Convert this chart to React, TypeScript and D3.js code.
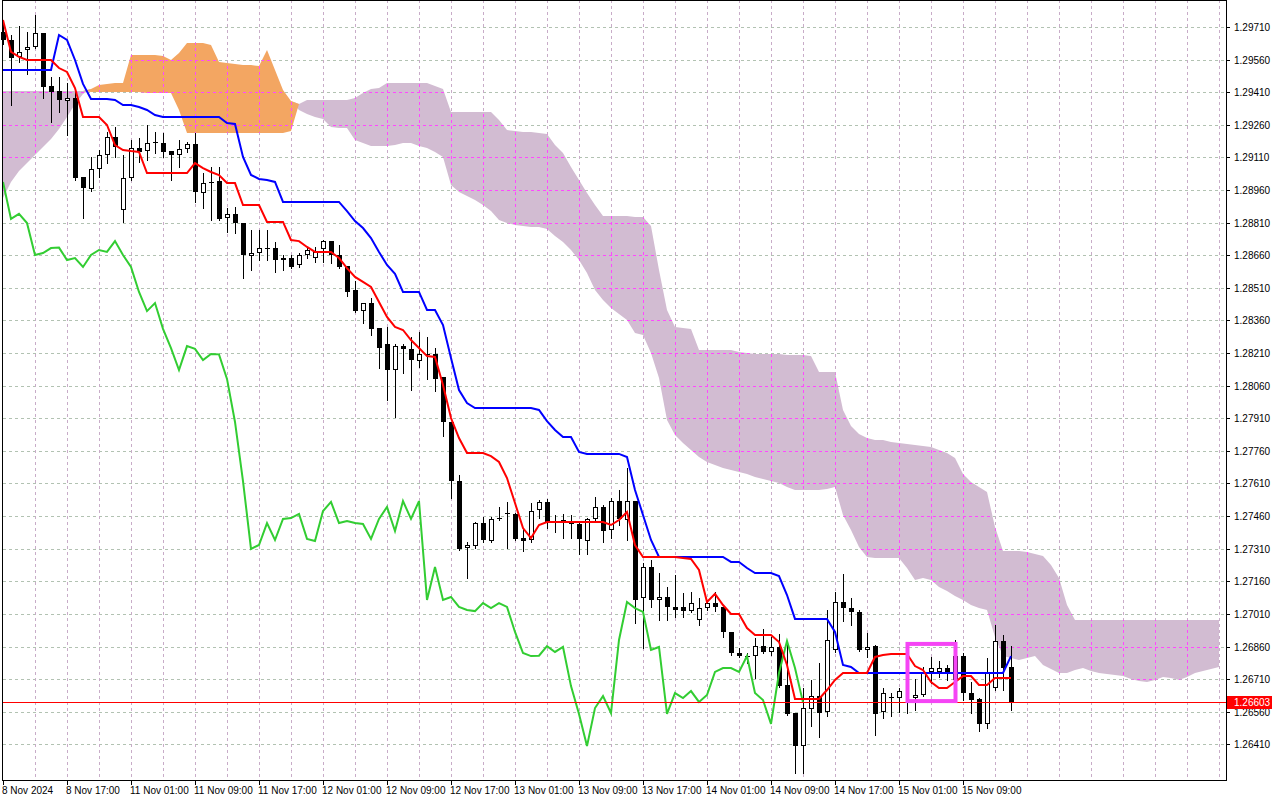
import * as d3 from 'd3';
import { useEffect, useRef } from 'react';

// GBPUSD H1, one bar per hour, [open, high, low, close]
const ohlc: [number, number, number, number][] = [
  [1.29687, 1.29724, 1.29632, 1.29650], [1.29650, 1.29673, 1.29351, 1.29567], [1.29572, 1.29714, 1.29549, 1.29595],
  [1.29604, 1.29687, 1.29494, 1.29618], [1.29618, 1.29765, 1.29613, 1.29682], [1.29682, 1.29684, 1.29383, 1.29434],
  [1.29438, 1.29480, 1.29273, 1.29411], [1.29415, 1.29480, 1.29319, 1.29374], [1.29369, 1.29452, 1.29213, 1.29383],
  [1.29383, 1.29420, 1.29006, 1.29015], [1.29020, 1.29022, 1.28831, 1.28969], [1.28965, 1.29112, 1.28955, 1.29057],
  [1.29057, 1.29144, 1.29020, 1.29121], [1.29121, 1.29227, 1.29084, 1.29204], [1.29204, 1.29250, 1.29112, 1.29158],
  [1.28868, 1.29121, 1.28813, 1.29015], [1.29015, 1.29190, 1.29006, 1.29153], [1.29153, 1.29199, 1.29089, 1.29135],
  [1.29139, 1.29259, 1.29098, 1.29176], [1.29176, 1.29227, 1.29130, 1.29181], [1.29176, 1.29222, 1.29112, 1.29135],
  [1.29139, 1.29140, 1.29006, 1.29121], [1.29121, 1.29190, 1.29066, 1.29149], [1.29149, 1.29181, 1.29135, 1.29172],
  [1.29172, 1.29222, 1.28905, 1.28951], [1.28946, 1.29038, 1.28877, 1.28992], [1.28992, 1.29066, 1.28822, 1.28997],
  [1.29001, 1.29066, 1.28822, 1.28827], [1.28831, 1.28877, 1.28767, 1.28850], [1.28850, 1.28882, 1.28762, 1.28808],
  [1.28808, 1.28810, 1.28555, 1.28661], [1.28656, 1.28776, 1.28592, 1.28670], [1.28670, 1.28776, 1.28638, 1.28693],
  [1.28693, 1.28776, 1.28638, 1.28695], [1.28695, 1.28721, 1.28583, 1.28638], [1.28638, 1.28661, 1.28592, 1.28647],
  [1.28647, 1.28661, 1.28601, 1.28606], [1.28615, 1.28670, 1.28606, 1.28661], [1.28661, 1.28693, 1.28647, 1.28684],
  [1.28647, 1.28698, 1.28629, 1.28675], [1.28689, 1.28730, 1.28629, 1.28725], [1.28725, 1.28727, 1.28624, 1.28661],
  [1.28661, 1.28707, 1.28601, 1.28606], [1.28610, 1.28612, 1.28472, 1.28491], [1.28500, 1.28541, 1.28399, 1.28403],
  [1.28403, 1.28442, 1.28348, 1.28440], [1.28440, 1.28463, 1.28293, 1.28321], [1.28325, 1.28327, 1.28141, 1.28233],
  [1.28252, 1.28330, 1.27994, 1.28132], [1.28132, 1.28252, 1.27916, 1.28242], [1.28242, 1.28252, 1.28118, 1.28229],
  [1.28229, 1.28284, 1.28040, 1.28178], [1.28173, 1.28307, 1.28146, 1.28206], [1.28206, 1.28284, 1.28091, 1.28204],
  [1.28204, 1.28233, 1.28035, 1.28091], [1.28100, 1.28102, 1.27828, 1.27893], [1.27893, 1.27895, 1.27543, 1.27621],
  [1.27621, 1.27649, 1.27304, 1.27309], [1.27313, 1.27341, 1.27175, 1.27327], [1.27322, 1.27433, 1.27313, 1.27428],
  [1.27428, 1.27456, 1.27341, 1.27350], [1.27345, 1.27456, 1.27341, 1.27447], [1.27447, 1.27502, 1.27442, 1.27451],
  [1.27474, 1.27525, 1.27313, 1.27470], [1.27470, 1.27472, 1.27350, 1.27355], [1.27359, 1.27405, 1.27299, 1.27345],
  [1.27350, 1.27520, 1.27341, 1.27483], [1.27488, 1.27534, 1.27451, 1.27525], [1.27525, 1.27539, 1.27405, 1.27428],
  [1.27428, 1.27465, 1.27387, 1.27437], [1.27442, 1.27470, 1.27359, 1.27428], [1.27428, 1.27465, 1.27359, 1.27424],
  [1.27424, 1.27428, 1.27286, 1.27355], [1.27345, 1.27449, 1.27286, 1.27447], [1.27447, 1.27548, 1.27442, 1.27502],
  [1.27502, 1.27511, 1.27341, 1.27391], [1.27396, 1.27543, 1.27359, 1.27529], [1.27529, 1.27580, 1.27419, 1.27447],
  [1.27442, 1.27681, 1.27350, 1.27529], [1.27529, 1.27531, 1.26968, 1.27074], [1.27083, 1.27244, 1.26853, 1.27226],
  [1.27226, 1.27258, 1.27042, 1.27074], [1.27074, 1.27198, 1.26982, 1.27088], [1.27088, 1.27134, 1.26982, 1.27042],
  [1.27042, 1.27189, 1.26996, 1.27028], [1.27042, 1.27106, 1.26996, 1.27023], [1.27023, 1.27111, 1.27019, 1.27060],
  [1.26982, 1.27083, 1.26959, 1.27037], [1.27037, 1.27074, 1.27028, 1.27060], [1.27060, 1.27111, 1.27023, 1.27042],
  [1.27042, 1.27044, 1.26904, 1.26927], [1.26927, 1.26929, 1.26821, 1.26830], [1.26830, 1.26853, 1.26812, 1.26816],
  [1.26816, 1.26830, 1.26784, 1.26818], [1.26816, 1.26899, 1.26715, 1.26862], [1.26862, 1.26941, 1.26830, 1.26835],
  [1.26835, 1.26904, 1.26821, 1.26858], [1.26858, 1.26918, 1.26674, 1.26678], [1.26683, 1.26881, 1.26545, 1.26550],
  [1.26554, 1.26556, 1.26278, 1.26402], [1.26402, 1.26669, 1.26278, 1.26577], [1.26573, 1.26706, 1.26494, 1.26632],
  [1.26632, 1.26784, 1.26444, 1.26554], [1.26559, 1.27028, 1.26540, 1.26890], [1.26844, 1.27111, 1.26835, 1.27065],
  [1.27065, 1.27194, 1.26977, 1.27037], [1.27037, 1.27083, 1.26959, 1.27019], [1.27019, 1.27028, 1.26839, 1.26844],
  [1.26844, 1.26922, 1.26812, 1.26858], [1.26862, 1.26867, 1.26453, 1.26550], [1.26559, 1.26669, 1.26531, 1.26646],
  [1.26627, 1.26646, 1.26540, 1.26623], [1.26623, 1.26669, 1.26559, 1.26655], [1.26600, 1.26614, 1.26554, 1.26605],
  [1.26623, 1.26711, 1.26568, 1.26637], [1.26637, 1.26766, 1.26632, 1.26743], [1.26743, 1.26812, 1.26692, 1.26761],
  [1.26743, 1.26793, 1.26720, 1.26761], [1.26761, 1.26775, 1.26706, 1.26743], [1.26706, 1.26890, 1.26660, 1.26816],
  [1.26816, 1.26830, 1.26614, 1.26646], [1.26646, 1.26697, 1.26554, 1.26614], [1.26619, 1.26621, 1.26471, 1.26504],
  [1.26504, 1.26807, 1.26485, 1.26738], [1.26669, 1.26959, 1.26660, 1.26885], [1.26885, 1.26913, 1.26660, 1.26761],
  [1.26766, 1.26862, 1.26568, 1.26603],
];

// Ichimoku lines
const tenkan = [
  1.29742, 1.29595, 1.29572, 1.29558, 1.29558, 1.29558, 1.29558, 1.29521, 1.29503, 1.29429,
  1.29296, 1.29296, 1.29296, 1.29259, 1.29167, 1.29144, 1.29139, 1.29135, 1.29038, 1.29038,
  1.29038, 1.29038, 1.29038, 1.29038, 1.29084, 1.29061, 1.29043, 1.29029, 1.28992, 1.28992,
  1.28891, 1.28891, 1.28891, 1.28813, 1.28813, 1.28813, 1.28730, 1.28725, 1.28698, 1.28675,
  1.28675, 1.28675, 1.28647, 1.28601, 1.28560, 1.28537, 1.28514, 1.28445, 1.28376, 1.28330,
  1.28316, 1.28270, 1.28233, 1.28196, 1.28192, 1.28063, 1.27911, 1.27819, 1.27750, 1.27750,
  1.27750, 1.27736, 1.27709, 1.27635, 1.27520, 1.27405, 1.27359, 1.27419, 1.27433, 1.27433,
  1.27433, 1.27433, 1.27433, 1.27433, 1.27433, 1.27433, 1.27419, 1.27442, 1.27479, 1.27327,
  1.27272, 1.27272, 1.27272, 1.27272, 1.27272, 1.27267, 1.27263, 1.27212, 1.27065, 1.27102,
  1.27051, 1.27010, 1.27010, 1.26945, 1.26913, 1.26913, 1.26913, 1.26881, 1.26775, 1.26619,
  1.26619, 1.26619, 1.26619, 1.26660, 1.26706, 1.26738, 1.26738, 1.26738, 1.26738, 1.26812,
  1.26821, 1.26826, 1.26826, 1.26826, 1.26770, 1.26752, 1.26697, 1.26669, 1.26669, 1.26697,
  1.26724, 1.26724, 1.26683, 1.26683, 1.26715, 1.26715, 1.26715,
];

const kijun = [
  1.29512, 1.29512, 1.29512, 1.29512, 1.29512, 1.29512, 1.29512, 1.29673, 1.29650, 1.29558,
  1.29448, 1.29379, 1.29379, 1.29379, 1.29374, 1.29351, 1.29351, 1.29342, 1.29328, 1.29305,
  1.29296, 1.29296, 1.29296, 1.29296, 1.29296, 1.29296, 1.29296, 1.29296, 1.29268, 1.29264,
  1.29112, 1.29029, 1.29011, 1.29006, 1.28997, 1.28905, 1.28905, 1.28905, 1.28905, 1.28905,
  1.28905, 1.28905, 1.28905, 1.28863, 1.28817, 1.28785, 1.28739, 1.28675, 1.28615, 1.28574,
  1.28491, 1.28491, 1.28491, 1.28408, 1.28408, 1.28339, 1.28187, 1.28040, 1.27980, 1.27957,
  1.27957, 1.27957, 1.27957, 1.27957, 1.27957, 1.27957, 1.27957, 1.27948, 1.27897, 1.27856,
  1.27824, 1.27824, 1.27755, 1.27746, 1.27746, 1.27746, 1.27746, 1.27746, 1.27732, 1.27580,
  1.27465, 1.27350, 1.27272, 1.27272, 1.27272, 1.27272, 1.27272, 1.27272, 1.27272, 1.27272,
  1.27272, 1.27249, 1.27249, 1.27221, 1.27198, 1.27198, 1.27198, 1.27184, 1.27097, 1.26987,
  1.26987, 1.26987, 1.26987, 1.26987, 1.26927, 1.26775, 1.26766, 1.26738, 1.26738, 1.26738,
  1.26738, 1.26738, 1.26738, 1.26738, 1.26738, 1.26738, 1.26738, 1.26738, 1.26738, 1.26738,
  1.26738, 1.26738, 1.26738, 1.26738, 1.26738, 1.26738, 1.26816,
];

// Senkou spans, already shifted 26 bars forward (153 points)
const spanA = [
  1.28923, 1.28997, 1.29047, 1.29084, 1.29121, 1.29158, 1.29195, 1.29241, 1.29296, 1.29356,
  1.29402, 1.29425, 1.29443, 1.29448, 1.29452, 1.29452, 1.29581, 1.29581, 1.29581, 1.29581,
  1.29576, 1.29558, 1.29590, 1.29636, 1.29636, 1.29636, 1.29627, 1.29549, 1.29544, 1.29540,
  1.29535, 1.29535, 1.29530, 1.29604, 1.29512, 1.29420, 1.29369, 1.29328, 1.29310, 1.29296,
  1.29287, 1.29250, 1.29245, 1.29245, 1.29190, 1.29176, 1.29162, 1.29162, 1.29162, 1.29167,
  1.29176, 1.29176, 1.29162, 1.29153, 1.29135, 1.29112, 1.28983, 1.28951, 1.28932, 1.28914,
  1.28891, 1.28863, 1.28822, 1.28808, 1.28799, 1.28794, 1.28790, 1.28790, 1.28781, 1.28748,
  1.28721, 1.28684, 1.28638, 1.28578, 1.28500, 1.28454, 1.28417, 1.28390, 1.28362, 1.28302,
  1.28293, 1.28210, 1.28095, 1.27902, 1.27833, 1.27796, 1.27764, 1.27732, 1.27709, 1.27695,
  1.27681, 1.27672, 1.27663, 1.27654, 1.27640, 1.27631, 1.27621, 1.27612, 1.27594, 1.27580,
  1.27580, 1.27580, 1.27580, 1.27585, 1.27594, 1.27465, 1.27396, 1.27318, 1.27272, 1.27267,
  1.27267, 1.27267, 1.27267, 1.27221, 1.27166, 1.27175, 1.27166, 1.27134, 1.27115, 1.27092,
  1.27074, 1.27051, 1.27037, 1.27028, 1.26904, 1.26816, 1.26807, 1.26798, 1.26807, 1.26816,
  1.26775, 1.26757, 1.26738, 1.26738, 1.26752, 1.26761, 1.26747, 1.26738, 1.26734, 1.26729,
  1.26724, 1.26711, 1.26701, 1.26697, 1.26706, 1.26720, 1.26715, 1.26706, 1.26720, 1.26738,
  1.26747, 1.26757, 1.26766,
];

const spanB = [
  1.29415, 1.29415, 1.29415, 1.29415, 1.29415, 1.29415, 1.29415, 1.29415, 1.29415, 1.29415,
  1.29415, 1.29411, 1.29411, 1.29411, 1.29411, 1.29411, 1.29411, 1.29411, 1.29406, 1.29406,
  1.29406, 1.29406, 1.29328, 1.29222, 1.29222, 1.29222, 1.29222, 1.29222, 1.29222, 1.29222,
  1.29222, 1.29222, 1.29222, 1.29222, 1.29222, 1.29222, 1.29231, 1.29356, 1.29374, 1.29374,
  1.29374, 1.29374, 1.29374, 1.29374, 1.29383, 1.29406, 1.29425, 1.29429, 1.29452, 1.29452,
  1.29452, 1.29452, 1.29452, 1.29452, 1.29438, 1.29425, 1.29319, 1.29319, 1.29319, 1.29319,
  1.29319, 1.29319, 1.29282, 1.29236, 1.29231, 1.29227, 1.29227, 1.29222, 1.29218, 1.29167,
  1.29130, 1.29066, 1.29006, 1.28946, 1.28891, 1.28840, 1.28840, 1.28840, 1.28840, 1.28836,
  1.28836, 1.28794, 1.28592, 1.28408, 1.28330, 1.28325, 1.28321, 1.28224, 1.28224, 1.28224,
  1.28224, 1.28224, 1.28215, 1.28210, 1.28206, 1.28206, 1.28206, 1.28206, 1.28201, 1.28201,
  1.28201, 1.28196, 1.28123, 1.28123, 1.28123, 1.27948, 1.27874, 1.27838, 1.27819, 1.27810,
  1.27810, 1.27801, 1.27796, 1.27792, 1.27787, 1.27782, 1.27778, 1.27764, 1.27750, 1.27727,
  1.27654, 1.27617, 1.27594, 1.27571, 1.27410, 1.27299, 1.27299, 1.27299, 1.27295, 1.27286,
  1.27276, 1.27235, 1.27175, 1.27051, 1.26982, 1.26982, 1.26982, 1.26982, 1.26982, 1.26982,
  1.26982, 1.26982, 1.26982, 1.26982, 1.26982, 1.26982, 1.26982, 1.26982, 1.26982, 1.26982,
  1.26982, 1.26982, 1.26982,
];

// one label every 8 bars
const timeLabels = [
  '8 Nov 2024', '8 Nov 17:00', '11 Nov 01:00', '11 Nov 09:00', '11 Nov 17:00', '12 Nov 01:00',
  '12 Nov 09:00', '12 Nov 17:00', '13 Nov 01:00', '13 Nov 09:00', '13 Nov 17:00', '14 Nov 01:00',
  '14 Nov 09:00', '14 Nov 17:00', '15 Nov 01:00', '15 Nov 09:00',
];

const priceTicks = [
  1.26410, 1.26560, 1.26710, 1.26860, 1.27010, 1.27160, 1.27310, 1.27460, 1.27610, 1.27760, 1.27910,
  1.28060, 1.28210, 1.28360, 1.28510, 1.28660, 1.28810, 1.28960, 1.29110, 1.29260, 1.29410, 1.29560, 1.29710,
];

const lastPrice = 1.26603;
const boxBars = [113, 119];
const boxPrices = [1.26609, 1.26872];

const font = '"Liberation Sans", Arial, sans-serif';

export default function App() {
  const ref = useRef<SVGSVGElement>(null);

  useEffect(() => {
    if (!ref.current) return;
    const svg = d3.select(ref.current);
    svg.selectAll('*').remove();

    const right = 1226;
    const bottom = 780;

    const x = d3.scaleLinear().domain([0, 152]).range([3, 1219]);
    const y = d3.scaleLinear().domain([1.26246, 1.29834]).range([bottom, 0]);
    const crisp = (v: number) => Math.round(v) + 0.5;

    svg.append('rect').attr('width', 1280).attr('height', 800).attr('fill', '#fff');

    const gridBars = d3.range(4, 153, 4);

    // dashed grid drawn as plain rects so every dash lands on whole pixels
    const drawGrid = (g: d3.Selection<SVGGElement, unknown, null, undefined>, hColor: string, vColor: string) => {
      priceTicks.forEach(t => {
        const gy = Math.round(y(t));
        g.selectAll(null)
          .data(d3.range(3, right, 6))
          .enter()
          .append('rect')
          .attr('x', d => d).attr('y', gy)
          .attr('width', 3).attr('height', 1)
          .attr('fill', hColor);
      });
      gridBars.forEach(b => {
        const gx = Math.round(x(b));
        g.selectAll(null)
          .data(d3.range(0, bottom, 6))
          .enter()
          .append('rect')
          .attr('x', gx).attr('y', d => d)
          .attr('width', 1).attr('height', 3)
          .attr('fill', vColor);
      });
    };

    drawGrid(svg.append('g'), '#b2c2b2', '#c8acc8');

    // cloud
    const idx = d3.range(spanA.length);
    const upColor = d3.area<number>()
      .x(i => x(i))
      .y0(i => y(spanB[i]))
      .y1(i => y(Math.max(spanA[i], spanB[i])));
    const downColor = d3.area<number>()
      .x(i => x(i))
      .y0(i => y(spanA[i]))
      .y1(i => y(Math.max(spanA[i], spanB[i])));

    const clip = svg.append('defs').append('clipPath').attr('id', 'cloudClip');
    clip.append('path').attr('d', upColor(idx));
    clip.append('path').attr('d', downColor(idx));

    svg.append('path').attr('d', downColor(idx)).attr('fill', '#d2bcd2');
    svg.append('path').attr('d', upColor(idx)).attr('fill', '#f3a662');

    drawGrid(svg.append('g').attr('clip-path', 'url(#cloudClip)'), '#ff48ff', '#ff48ff');

    // candles
    const candles = svg.append('g');
    ohlc.forEach(([o, h, l, c], i) => {
      const cx = Math.round(x(i));
      candles.append('line')
        .attr('x1', cx + 0.5).attr('x2', cx + 0.5)
        .attr('y1', Math.round(y(h))).attr('y2', Math.round(y(l)) + 1)
        .attr('stroke', '#000');
      const top = Math.round(y(Math.max(o, c)));
      const bot = Math.round(y(Math.min(o, c)));
      if (c < o) {
        candles.append('rect')
          .attr('x', cx - 2).attr('y', top)
          .attr('width', 5).attr('height', Math.max(1, bot - top))
          .attr('fill', '#000');
      } else if (bot - top < 2) {
        candles.append('line')
          .attr('x1', cx - 2).attr('x2', cx + 3)
          .attr('y1', top + 0.5).attr('y2', top + 0.5)
          .attr('stroke', '#000');
      } else {
        candles.append('rect')
          .attr('x', cx - 1.5).attr('y', top + 0.5)
          .attr('width', 4).attr('height', bot - top - 1)
          .attr('fill', '#fff').attr('stroke', '#000');
      }
    });

    const line = d3.line<number>().x((_, i) => x(i)).y(d => y(d));
    const chikou = ohlc.slice(26).map(d => d[3]);

    svg.append('path').attr('d', line(chikou)).attr('fill', 'none').attr('stroke', '#32cd32').attr('stroke-width', 2);
    svg.append('path').attr('d', line(kijun)).attr('fill', 'none').attr('stroke', '#0000ff').attr('stroke-width', 2);
    svg.append('path').attr('d', line(tenkan)).attr('fill', 'none').attr('stroke', '#ff0000').attr('stroke-width', 2);

    // last price
    const ly = crisp(y(lastPrice));
    svg.append('line').attr('x1', 2).attr('x2', right).attr('y1', ly).attr('y2', ly).attr('stroke', '#ff0000');

    // highlight box
    svg.append('rect')
      .attr('x', x(boxBars[0]) + 0.5)
      .attr('y', y(boxPrices[1]))
      .attr('width', x(boxBars[1]) - x(boxBars[0]))
      .attr('height', y(boxPrices[0]) - y(boxPrices[1]))
      .attr('fill', 'none')
      .attr('stroke', '#f545f5')
      .attr('stroke-width', 4);

    // frame
    svg.append('rect')
      .attr('x', 2.5).attr('y', 0.5)
      .attr('width', right - 2).attr('height', bottom)
      .attr('fill', 'none').attr('stroke', '#000');

    // price axis
    const ya = svg.append('g');
    priceTicks.forEach(p => {
      const py = crisp(y(p));
      ya.append('line').attr('x1', right).attr('x2', right + 4).attr('y1', py).attr('y2', py).attr('stroke', '#000');
      ya.append('text')
        .attr('x', right + 8).attr('y', py + 3.5)
        .attr('font-family', font).attr('font-size', 10).attr('fill', '#000')
        .text(p.toFixed(5));
    });
    ya.append('rect')
      .attr('x', right + 1).attr('y', ly - 6.5)
      .attr('width', 45).attr('height', 13)
      .attr('fill', '#ff0000');
    ya.append('text')
      .attr('x', right + 8).attr('y', ly + 3.5)
      .attr('font-family', font).attr('font-size', 10).attr('fill', '#fff')
      .text(lastPrice.toFixed(5));

    // time axis
    const xa = svg.append('g');
    timeLabels.forEach((t, k) => {
      const tx = crisp(x(k * 8));
      xa.append('line').attr('x1', tx).attr('x2', tx).attr('y1', bottom).attr('y2', bottom + 5).attr('stroke', '#000');
      xa.append('text')
        .attr('x', tx - 1.5).attr('y', bottom + 14)
        .attr('font-family', font).attr('font-size', 10).attr('fill', '#000')
        .text(t);
    });

    return () => {
      svg.selectAll('*').remove();
    };
  }, []);

  return (
    <svg
      ref={ref}
      width={1280}
      height={800}
      style={{ position: 'absolute', left: 0, top: 0, display: 'block' }}
    />
  );
}
